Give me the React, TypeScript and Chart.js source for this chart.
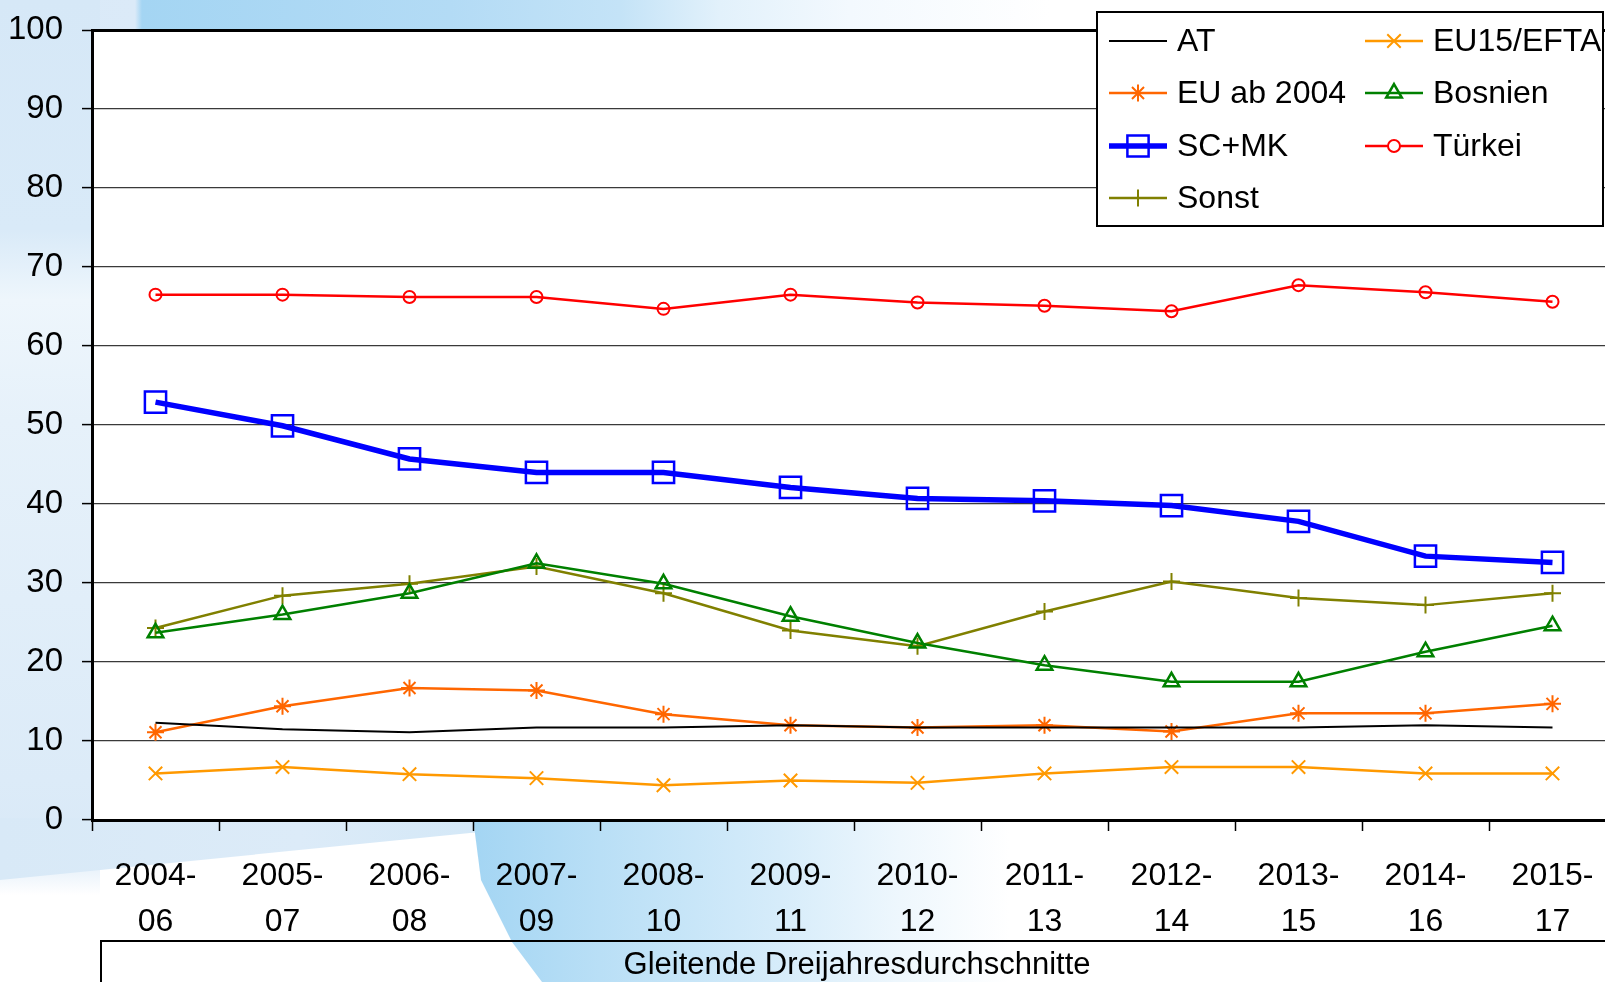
import React, { useEffect, useRef } from 'react';
import { Chart, registerables } from 'chart.js';
import { drawPoint } from 'chart.js/helpers';

Chart.register(...registerables);

// ---- Data ----
const periods = ['2004-06', '2005-07', '2006-08', '2007-09', '2008-10', '2009-11', '2010-12', '2011-13', '2012-14', '2013-15', '2014-16', '2015-17'];
const AT = [12.3, 11.5, 11.1, 11.7, 11.7, 12.0, 11.7, 11.7, 11.7, 11.7, 12.0, 11.7];
const EU15_EFTA = [5.9, 6.7, 5.8, 5.3, 4.4, 5.0, 4.7, 5.9, 6.7, 6.7, 5.9, 5.9];
const EU_AB_2004 = [11.1, 14.4, 16.7, 16.4, 13.4, 12.0, 11.7, 12.0, 11.2, 13.5, 13.5, 14.7];
const BOSNIEN = [23.7, 26.0, 28.7, 32.5, 29.9, 25.8, 22.4, 19.6, 17.5, 17.5, 21.3, 24.6];
const SC_MK = [52.9, 49.9, 45.7, 44.0, 44.0, 42.1, 40.7, 40.4, 39.8, 37.8, 33.4, 32.6];
const TUERKEI = [66.5, 66.5, 66.2, 66.2, 64.7, 66.5, 65.5, 65.1, 64.4, 67.7, 66.8, 65.6];
const SONST = [24.3, 28.4, 29.9, 32.1, 28.7, 24.0, 22.0, 26.4, 30.2, 28.1, 27.2, 28.7];
const yTicks = [0, 10, 20, 30, 40, 50, 60, 70, 80, 90, 100];
const axisTitle = 'Gleitende Dreijahresdurchschnitte';

const FONT = "'Liberation Sans', Arial, Helvetica, sans-serif";

type SeriesDef = {
  label: string;
  data: number[];
  color: string;
  lineWidth: number;
  pointStyle: any;
  radius: number;
  pointBorderWidth: number;
};

const series: SeriesDef[] = [
  { label: 'AT', data: AT, color: '#000000', lineWidth: 2, pointStyle: false, radius: 0, pointBorderWidth: 0 },
  { label: 'EU15/EFTA', data: EU15_EFTA, color: '#FF9900', lineWidth: 2.5, pointStyle: 'crossRot', radius: 9.5, pointBorderWidth: 2 },
  { label: 'EU ab 2004', data: EU_AB_2004, color: '#FF6600', lineWidth: 2.5, pointStyle: 'star', radius: 8.5, pointBorderWidth: 2 },
  { label: 'Bosnien', data: BOSNIEN, color: '#008000', lineWidth: 2.5, pointStyle: 'triangle', radius: 9, pointBorderWidth: 2.5 },
  { label: 'SC+MK', data: SC_MK, color: '#0000FF', lineWidth: 5.5, pointStyle: 'rect', radius: 15, pointBorderWidth: 2.5 },
  { label: 'Türkei', data: TUERKEI, color: '#FF0000', lineWidth: 2.5, pointStyle: 'circle', radius: 6, pointBorderWidth: 2 },
  { label: 'Sonst', data: SONST, color: '#808000', lineWidth: 2.5, pointStyle: 'cross', radius: 8.5, pointBorderWidth: 2 },
];

// legend layout: two columns, row-major order as in the original
const legendOrder = [
  { name: 'AT', col: 0, row: 0 },
  { name: 'EU15/EFTA', col: 1, row: 0 },
  { name: 'EU ab 2004', col: 0, row: 1 },
  { name: 'Bosnien', col: 1, row: 1 },
  { name: 'SC+MK', col: 0, row: 2 },
  { name: 'Türkei', col: 1, row: 2 },
  { name: 'Sonst', col: 0, row: 3 },
];

const plotBgPlugin = {
  id: 'plotBg',
  beforeDraw(chart: any) {
    const { ctx, chartArea } = chart;
    ctx.save();
    ctx.fillStyle = '#ffffff';
    ctx.fillRect(chartArea.left, chartArea.top, chartArea.right - chartArea.left, chartArea.bottom - chartArea.top);
    ctx.restore();
  },
};

const legendPlugin = {
  id: 'boxLegend',
  afterDraw(chart: any) {
    const ctx = chart.ctx;
    const boxX = 1097, boxY = 12, boxW = 506, boxH = 214;
    const colLineX = [1109, 1365];
    const lineLen = 58;
    const rowY = [41, 93, 146, 198];
    ctx.save();
    ctx.fillStyle = '#ffffff';
    ctx.fillRect(boxX, boxY, boxW, boxH);
    ctx.strokeStyle = '#000000';
    ctx.lineWidth = 2;
    ctx.strokeRect(boxX, boxY, boxW, boxH);
    legendOrder.forEach((item) => {
      const s = series.find((d) => d.label === item.name)!;
      const x0 = colLineX[item.col];
      const y = rowY[item.row];
      ctx.strokeStyle = s.color;
      ctx.lineWidth = s.lineWidth;
      ctx.beginPath();
      ctx.moveTo(x0, y);
      ctx.lineTo(x0 + lineLen, y);
      ctx.stroke();
      if (s.pointStyle) {
        ctx.lineWidth = s.pointBorderWidth;
        ctx.fillStyle = s.pointStyle === 'circle' ? '#ffffff' : 'rgba(0,0,0,0)';
        drawPoint(ctx, { pointStyle: s.pointStyle, radius: s.radius, borderWidth: s.pointBorderWidth, rotation: 0 } as any, x0 + lineLen / 2, y);
      }
      ctx.fillStyle = '#000000';
      ctx.font = `32px ${FONT}`;
      ctx.textBaseline = 'middle';
      ctx.textAlign = 'left';
      ctx.fillText(s.label, x0 + lineLen + 10, y + 1);
    });
    ctx.restore();
  },
};

export default function App() {
  const canvasRef = useRef<HTMLCanvasElement>(null);

  useEffect(() => {
    if (!canvasRef.current) return;
    const chart = new Chart(canvasRef.current, {
      type: 'line',
      data: {
        labels: periods.map((p) => [p.slice(0, 5), p.slice(5)]),
        datasets: series.map((s) => ({
          label: s.label,
          data: s.data,
          borderColor: s.color,
          backgroundColor: 'rgba(0,0,0,0)',
          borderWidth: s.lineWidth,
          pointStyle: s.pointStyle,
          pointRadius: s.radius,
          pointHoverRadius: s.radius,
          pointBorderColor: s.color,
          pointBackgroundColor: 'rgba(0,0,0,0)',
          pointBorderWidth: s.pointBorderWidth,
          tension: 0,
          fill: false,
        })),
      },
      options: {
        responsive: false,
        maintainAspectRatio: false,
        animation: false,
        events: [],
        layout: { padding: { top: 30, right: 24, left: 0, bottom: 0 } },
        plugins: {
          legend: { display: false },
          tooltip: { enabled: false },
          title: { display: false },
        },
        scales: {
          x: {
            offset: true,
            grid: {
              offset: true,
              drawOnChartArea: false,
              drawTicks: true,
              tickLength: 11,
              tickColor: '#000000',
              tickWidth: 1.5,
            },
            border: { color: '#000000', width: 3 },
            ticks: {
              color: '#000000',
              font: { family: FONT, size: 32, lineHeight: 1.44 },
              padding: 22,
              maxRotation: 0,
              autoSkip: false,
            },
            afterFit: (scale: any) => {
              scale.height = 162;
              scale.paddingLeft = 0;
              scale.paddingRight = 0;
            },
          },
          y: {
            min: 0,
            max: 100,
            afterBuildTicks: (scale: any) => {
              scale.ticks = yTicks.map((v) => ({ value: v }));
            },
            ticks: {
              color: '#000000',
              font: { family: FONT, size: 33 },
              padding: 19,
            },
            grid: {
              color: (ctx: any) => (ctx.tick && ctx.tick.value === 100 ? '#000000' : '#3a3a3a'),
              lineWidth: (ctx: any) => (ctx.tick && ctx.tick.value === 100 ? 3 : 1.2),
              tickLength: 10,
              tickColor: '#000000',
              tickWidth: 1.5,
            },
            border: { color: '#000000', width: 3 },
            afterFit: (scale: any) => {
              scale.width = 92;
              scale.paddingTop = 0;
              scale.paddingBottom = 0;
            },
          },
        },
      },
      plugins: [plotBgPlugin, legendPlugin],
    });
    return () => chart.destroy();
  }, []);

  return (
    <div
      style={{
        position: 'fixed',
        left: 0,
        top: 0,
        width: 1605,
        height: 982,
        overflow: 'hidden',
        background: '#ffffff',
        fontFamily: FONT,
      }}
    >
      {/* decorative background */}
      <div
        style={{
          position: 'absolute',
          left: 0,
          top: 0,
          width: 1605,
          height: 40,
          background:
            'linear-gradient(90deg, #d9e9f7 0px, #dbeaf8 135px, #a4d5f3 142px, #b3dbf5 450px, #c4e3f7 620px, #e2f1fb 720px, #f3f9fe 850px, #ffffff 1050px)',
        }}
      />
      <div
        style={{
          position: 'absolute',
          left: 0,
          top: 0,
          width: 100,
          height: 900,
          background:
            'linear-gradient(180deg, #d6e8f7 0px, #d9eaf8 230px, #eef6fc 300px, #e6f1fa 420px, #dcebf8 780px, #d9e9f7 850px, #ffffff 895px)',
        }}
      />
      <div
        style={{
          position: 'absolute',
          left: 0,
          top: 818,
          width: 480,
          height: 70,
          clipPath: 'polygon(0 0, 480px 0, 480px 14px, 0 62px)',
          background: 'linear-gradient(90deg, #d8e9f7 0px, #dcebf8 300px, #d4e8f7 480px)',
        }}
      />
      <div
        style={{
          position: 'absolute',
          left: 0,
          top: 818,
          width: 1605,
          height: 164,
          clipPath: 'polygon(473px 0, 1605px 0, 1605px 164px, 542px 164px, 512px 124px, 481px 62px)',
          background:
            'linear-gradient(90deg, #a3d5f3 470px, #b9dff6 600px, #d6ecfa 780px, #eef7fd 900px, #ffffff 1010px)',
        }}
      />
      <div style={{ position: 'absolute', left: 0, top: 0, width: 1640, height: 982 }}>
        <canvas ref={canvasRef} width={1640} height={982} style={{ display: 'block', width: 1640, height: 982 }} />
      </div>
      {/* axis title box */}
      <div
        style={{
          position: 'absolute',
          left: 100,
          top: 940,
          width: 1600,
          height: 80,
          borderTop: '2px solid #000',
          borderLeft: '2px solid #000',
          boxSizing: 'border-box',
        }}
      />
      <div
        style={{
          position: 'absolute',
          left: 857,
          top: 945,
          transform: 'translateX(-50%)',
          whiteSpace: 'nowrap',
          fontFamily: FONT,
          fontSize: 31,
          lineHeight: '38px',
          color: '#000',
        }}
      >
        {axisTitle}
      </div>
    </div>
  );
}
